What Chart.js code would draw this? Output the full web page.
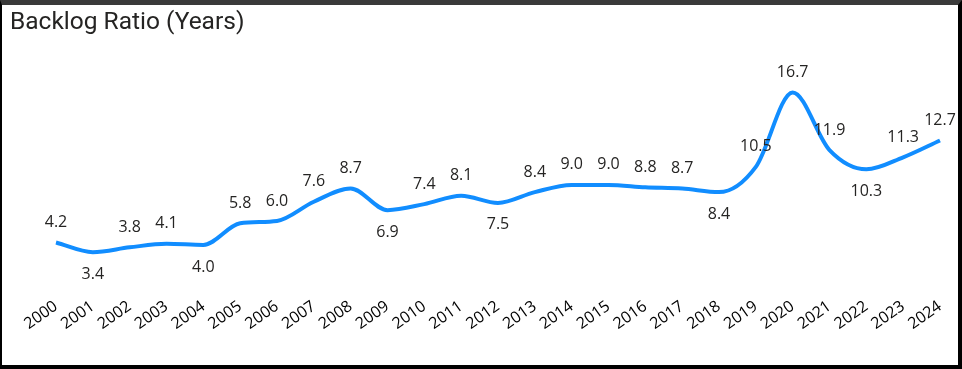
<!DOCTYPE html>
<html>
<head>
<meta charset="utf-8">
<script src="https://cdn.jsdelivr.net/npm/chart.js@4/dist/chart.umd.min.js"></script>
<style>
  html, body { margin: 0; padding: 0; background: #fff; }
  #frame {
    width: 962px; height: 369px; box-sizing: border-box; position: relative;
    border-left: 2px solid #000; border-right: 4px solid #000;
    border-top: 5px solid #3a3a3a; border-bottom: 4px solid #000;
  }
  #title {
    position: absolute; left: 8px; top: 1px;
    font-family: Roboto, sans-serif; font-size: 24.5px; color: #252423;
  }
  canvas { position: absolute; left: 0; top: 0; }
</style>
</head>
<body>
<div id="frame">
  <canvas id="chart" width="956" height="360"></canvas>
  <div id="title">Backlog Ratio (Years)</div>
</div>
<script>
let years = ['2000', '2001', '2002', '2003', '2004', '2005', '2006', '2007', '2008', '2009', '2010', '2011', '2012',
             '2013', '2014', '2015', '2016', '2017', '2018', '2019', '2020', '2021', '2022', '2023', '2024'];
let backlog = [4.2, 3.4, 3.8, 4.1, 4.0, 5.8, 6.0, 7.6, 8.7, 6.9, 7.4, 8.1, 7.5,
               8.4, 9.0, 9.0, 8.8, 8.7, 8.4, 10.5, 16.7, 11.9, 10.3, 11.3, 12.7];
// where each value label sits: a = above the point, b = below
let labelPos = ['a', 'b', 'a', 'a', 'b', 'a', 'a', 'a', 'a', 'b', 'a', 'a', 'b',
                'a', 'a', 'a', 'a', 'a', 'b', 'a', 'a', 'a', 'b', 'a', 'a'];

let valueLabels = {
    id: 'valueLabels',
    afterDatasetsDraw(chart) {
        let ctx = chart.ctx;
        let meta = chart.getDatasetMeta(0);
        ctx.save();
        ctx.font = '16px "Open Sans", sans-serif';
        ctx.fillStyle = '#252423';
        ctx.textAlign = 'center';
        ctx.textBaseline = 'middle';
        meta.data.forEach((pt, i) => {
            let dy = labelPos[i] === 'a' ? -20 : 22;
            ctx.fillText(backlog[i].toFixed(1), pt.x, pt.y + dy);
        });
        ctx.restore();
    }
};

new Chart(document.getElementById('chart'), {
    type: 'line',
    data: {
        labels: years,
        datasets: [{
            label: 'Backlog Ratio',
            data: backlog,
            borderColor: '#118DFF',
            borderWidth: 4,
            pointRadius: 0,
            cubicInterpolationMode: 'monotone',
            clip: false
        }]
    },
    options: {
        responsive: false,
        animation: false,
        layout: { padding: { top: 55, right: 18, left: 54, bottom: 12 } },
        plugins: { legend: { display: false }, tooltip: { enabled: false } },
        scales: {
            y: { display: false, min: 0, max: 19.4 },
            x: {
                offset: false,
                grid: { display: false, drawTicks: false },
                border: { display: false },
                afterFit(scale) { scale.height = 60; },
                ticks: {
                    autoSkip: false,
                    minRotation: 35,
                    maxRotation: 35,
                    padding: 4,
                    color: '#000',
                    font: { family: '"Open Sans", sans-serif', size: 16 }
                }
            }
        }
    },
    plugins: [valueLabels]
});
</script>
</body>
</html>
